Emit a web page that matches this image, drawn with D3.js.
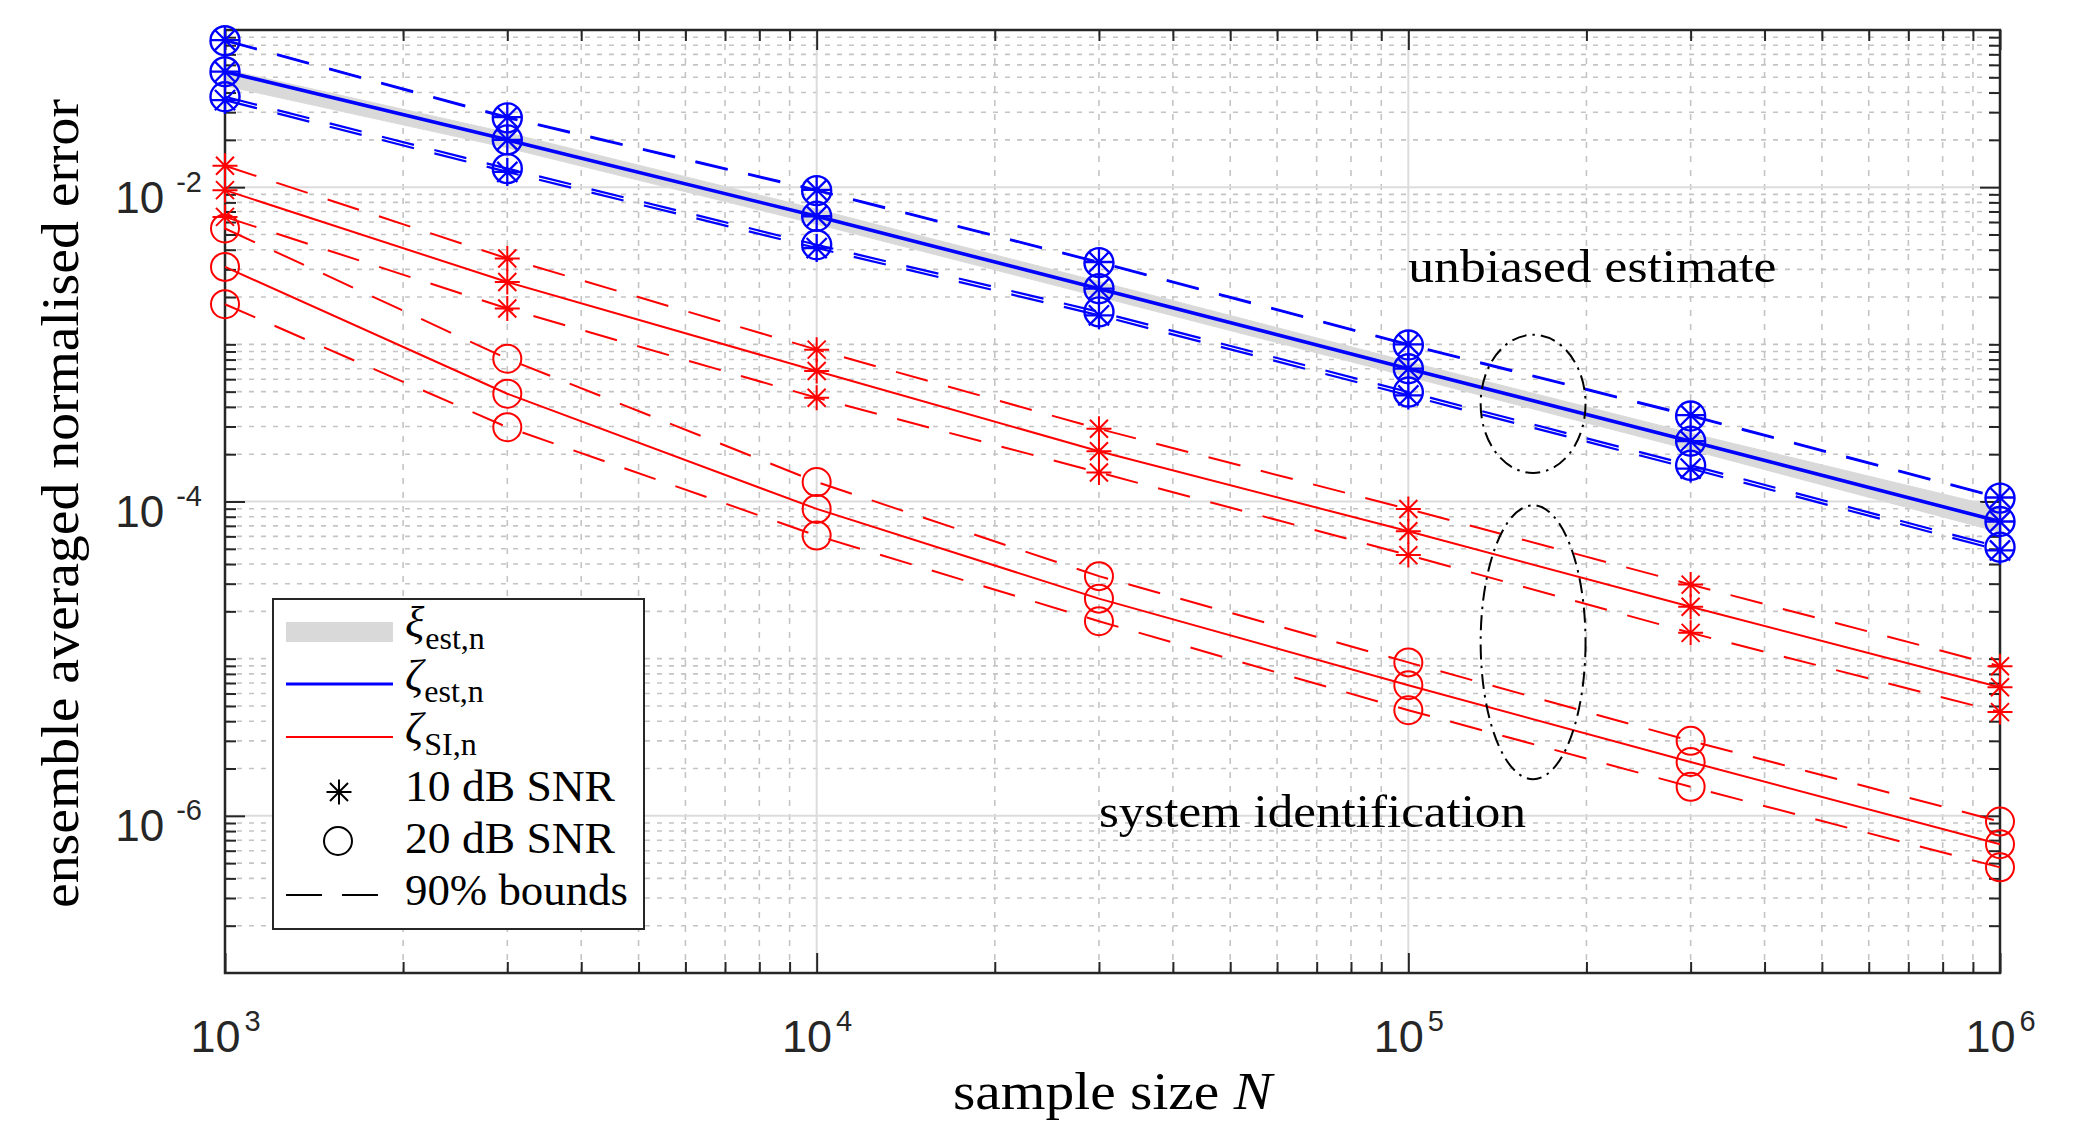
<!DOCTYPE html>
<html>
<head>
<meta charset="utf-8">
<script src="https://cdn.jsdelivr.net/npm/d3@7"></script>
<style>
  body { margin: 0; background: #fff; }
  svg { display: block; }
  text { font-family: "Liberation Serif", "Times New Roman", serif; fill: #000; }
  .tick-label { font-family: "Liberation Sans", Arial, sans-serif; fill: #262626; }
</style>
</head>
<body>
<div id="chart"></div>
<script>
// sample sizes N
const sampleN = [1e3, 3e3, 1e4, 3e4, 1e5, 3e5, 1e6];

// xi_est,n band (grey patch)
const xiUpper = [0.0562, 0.0222, 0.00724, 0.00251, 0.000776, 0.000272, 0.0000912];
const xiLower = [0.0442, 0.0178, 0.00582, 0.00201, 0.000624, 0.000213, 0.0000638];

// zeta_est,n (blue), 10 dB and 20 dB nearly coincide
const estMean = [0.0543, 0.0200, 0.00653, 0.00226, 0.00070, 0.000242, 0.0000746];
const est10Upper = [0.0863, 0.0279, 0.0096, 0.00334, 0.00100, 0.000354, 0.000106];
const est10Lower = [0.0358, 0.0125, 0.0041, 0.00153, 0.000473, 0.000162, 0.0000488];
const est20Upper = [0.0855, 0.0276, 0.0095, 0.00331, 0.00099, 0.000350, 0.000105];
const est20Lower = [0.0376, 0.01313, 0.0043, 0.00161, 0.000497, 0.000170, 0.0000512];

// zeta_SI,n (red)
const si10Mean = [0.00957, 0.00249, 0.000676, 0.000209, 0.0000646, 0.0000214, 0.00000658];
const si10Upper = [0.01368, 0.00352, 0.000925, 0.000290, 0.0000895, 0.0000296, 0.00000895];
const si10Lower = [0.00647, 0.00169, 0.000457, 0.000153, 0.0000456, 0.0000146, 0.00000457];
const si20Mean = [0.00311, 0.000485, 0.0000897, 0.0000241, 0.00000678, 0.0000022, 6.6e-7];
const si20Upper = [0.00546, 0.00081, 0.000133, 0.0000335, 0.00000947, 0.0000030, 9.2e-7];
const si20Lower = [0.00180, 0.000297, 0.0000607, 0.0000173, 0.0000047, 0.00000153, 4.7e-7];

// ticks
const xMajor = [1e3, 1e4, 1e5, 1e6];
const xExponents = ["3", "4", "5", "6"];
const yMajor = [1e-6, 1e-4, 1e-2];
const yExponents = ["-6", "-4", "-2"];

// dash-dot ellipses: [N left, N right], [value top, value bottom]
const ellipseN = [[1.325e5, 1.993e5], [1.325e5, 1.993e5]];
const ellipseV = [[1.15e-3, 1.52e-4], [9.46e-5, 1.71e-6]];

// annotations
const noteText = ["unbiased estimate", "system identification"];
const noteN = [1e5, 3e4];
const noteV = [2.5e-3, 8.5e-7];
const noteWidth = [368, 427];

const W = 2079, H = 1125;
const margin = { left: 225, right: 79, top: 30, bottom: 152 };
const BLUE = "#0000ff", RED = "#ff0000", AXC = "#262626";

const svg = d3.select("#chart").append("svg").attr("width", W).attr("height", H);

const x = d3.scaleLog().domain([1e3, 1e6]).range([margin.left, W - margin.right]);
const y = d3.scaleLog().domain([1e-7, 1e-1]).range([H - margin.bottom, margin.top]);
const [x0, x1] = x.range();
const [y0, y1] = y.range(); // y0 bottom, y1 top

// minor positions
const xMinor = [];
[1e3, 1e4, 1e5].forEach(d => { for (let k = 2; k <= 9; k++) xMinor.push(k * d); });
const yMinor = [];
for (let e = -7; e <= -2; e++) {
  for (let k = 1; k <= 9; k++) {
    const v = k * Math.pow(10, e);
    if (k === 1 && (yMajor.some(m => Math.abs(m - v) / m < 1e-6) || e === -7)) continue;
    yMinor.push(v);
  }
}

// grid
const grid = svg.append("g");
grid.selectAll(".vminor").data(xMinor).join("line")
  .attr("x1", d => x(d)).attr("x2", d => x(d)).attr("y1", y1).attr("y2", y0)
  .attr("stroke", "#c4c4c4").attr("stroke-width", 1.6).attr("stroke-dasharray", "6,8");
grid.selectAll(".hminor").data(yMinor).join("line")
  .attr("x1", x0).attr("x2", x1).attr("y1", d => y(d)).attr("y2", d => y(d))
  .attr("stroke", "#c4c4c4").attr("stroke-width", 1.6).attr("stroke-dasharray", "5,7");
grid.selectAll(".vmajor").data(xMajor.slice(1, -1)).join("line")
  .attr("x1", d => x(d)).attr("x2", d => x(d)).attr("y1", y1).attr("y2", y0)
  .attr("stroke", "#dcdcdc").attr("stroke-width", 2);
grid.selectAll(".hmajor").data(yMajor).join("line")
  .attr("x1", x0).attr("x2", x1).attr("y1", d => y(d)).attr("y2", d => y(d))
  .attr("stroke", "#dcdcdc").attr("stroke-width", 2);

// axes (ticks point inward)
function styleAxis(g) {
  g.select(".domain").remove();
  g.selectAll(".tick line").attr("stroke", AXC).attr("stroke-width", 2);
  g.selectAll(".tick text").remove();
}
const axB = svg.append("g").attr("transform", `translate(0,${y0})`)
  .call(d3.axisBottom(x).tickValues(xMajor).tickSize(-20)).call(styleAxis);
svg.append("g").attr("transform", `translate(0,${y0})`)
  .call(d3.axisBottom(x).tickValues(xMinor).tickSize(-11)).call(styleAxis);
svg.append("g").attr("transform", `translate(0,${y1})`)
  .call(d3.axisTop(x).tickValues(xMajor).tickSize(-20)).call(styleAxis);
svg.append("g").attr("transform", `translate(0,${y1})`)
  .call(d3.axisTop(x).tickValues(xMinor).tickSize(-11)).call(styleAxis);
const axL = svg.append("g").attr("transform", `translate(${x0},0)`)
  .call(d3.axisLeft(y).tickValues(yMajor).tickSize(-20)).call(styleAxis);
svg.append("g").attr("transform", `translate(${x0},0)`)
  .call(d3.axisLeft(y).tickValues(yMinor).tickSize(-11)).call(styleAxis);
svg.append("g").attr("transform", `translate(${x1},0)`)
  .call(d3.axisRight(y).tickValues(yMajor).tickSize(-20)).call(styleAxis);
svg.append("g").attr("transform", `translate(${x1},0)`)
  .call(d3.axisRight(y).tickValues(yMinor).tickSize(-11)).call(styleAxis);

svg.append("rect").attr("x", x0).attr("y", y1).attr("width", x1 - x0).attr("height", y0 - y1)
  .attr("fill", "none").attr("stroke", AXC).attr("stroke-width", 2.5);

// tick labels 10^k
axB.selectAll(".tick").each(function (d, i) {
  const t = d3.select(this).append("text").attr("class", "tick-label")
    .attr("y", 79).attr("text-anchor", "middle").style("font-size", "45px");
  t.append("tspan").text("10");
  t.append("tspan").attr("dx", 4).attr("dy", -21).style("font-size", "29px").text(xExponents[i]);
});
axL.selectAll(".tick").each(function (d, i) {
  const t = d3.select(this).append("text").attr("class", "tick-label")
    .attr("x", -23).attr("y", 25).attr("text-anchor", "end").style("font-size", "44px");
  t.append("tspan").text("10");
  t.append("tspan").attr("dx", 12).attr("dy", -21).style("font-size", "29px").text(yExponents[i]);
});

// axis titles
svg.append("text").attr("transform", `translate(78,${(y0 + y1) / 2 + 2}) rotate(-90)`)
  .attr("text-anchor", "middle").style("font-size", "53px")
  .attr("textLength", 809).attr("lengthAdjust", "spacingAndGlyphs")
  .text("ensemble averaged normalised error");
const xl = svg.append("text").attr("x", 953).attr("y", 1109).style("font-size", "52px")
  .attr("textLength", 319).attr("lengthAdjust", "spacingAndGlyphs");
xl.append("tspan").text("sample size ");
xl.append("tspan").style("font-style", "italic").text("N");

// data
const pts = arr => d3.zip(sampleN, arr);
const line = d3.line().x(d => x(d[0])).y(d => y(d[1]));
const area = d3.area().x(d => x(d[0])).y0(d => y(d[1])).y1(d => y(d[2]));

const plot = svg.append("g");
plot.append("path").datum(d3.zip(sampleN, xiLower, xiUpper)).attr("d", area)
  .attr("fill", "#d9d9d9").attr("stroke", "#d9d9d9").attr("stroke-width", 1);

const dash = "33,21";
function drawLine(arr, color, width, dashed) {
  plot.append("path").datum(pts(arr)).attr("d", line)
    .attr("fill", "none").attr("stroke", color).attr("stroke-width", width)
    .attr("stroke-dasharray", dashed ? dash : null);
}
[si10Upper, si10Lower, si20Upper, si20Lower].forEach(a => drawLine(a, RED, 2, true));
[si10Mean, si20Mean].forEach(a => drawLine(a, RED, 2, false));
[est10Upper, est10Lower, est20Upper, est20Lower].forEach(a => drawLine(a, BLUE, 2.2, true));
drawLine(estMean, BLUE, 3.6, false);

function asterisk(r) {
  const q = r * 0.72;
  return `M${-r},0H${r}M0,${-r}V${r}M${-q},${-q}L${q},${q}M${-q},${q}L${q},${-q}`;
}
function drawStars(arrs, color, r, w) {
  arrs.forEach(a => {
    plot.append("g").selectAll("path").data(pts(a)).join("path")
      .attr("transform", d => `translate(${x(d[0])},${y(d[1])})`)
      .attr("d", asterisk(r)).attr("fill", "none").attr("stroke", color).attr("stroke-width", w);
  });
}
function drawCircles(arrs, color, r, w) {
  arrs.forEach(a => {
    plot.append("g").selectAll("circle").data(pts(a)).join("circle")
      .attr("cx", d => x(d[0])).attr("cy", d => y(d[1])).attr("r", r)
      .attr("fill", "none").attr("stroke", color).attr("stroke-width", w);
  });
}
drawStars([si10Upper, si10Mean, si10Lower], RED, 12.5, 2);
drawCircles([si20Upper, si20Mean, si20Lower], RED, 14, 2);
drawStars([est10Upper, estMean, est10Lower], BLUE, 14, 2.3);
drawCircles([est20Upper, estMean, est20Lower], BLUE, 14.5, 2.4);

// ellipses
ellipseN.forEach((n, i) => {
  const v = ellipseV[i];
  plot.append("ellipse")
    .attr("cx", (x(n[0]) + x(n[1])) / 2).attr("cy", (y(v[0]) + y(v[1])) / 2)
    .attr("rx", (x(n[1]) - x(n[0])) / 2).attr("ry", (y(v[1]) - y(v[0])) / 2)
    .attr("fill", "none").attr("stroke", "#000").attr("stroke-width", 2)
    .attr("stroke-dasharray", "15,6,2.5,6");
});

// annotations
noteText.forEach((t, i) => {
  svg.append("text").attr("x", x(noteN[i])).attr("y", y(noteV[i]))
    .style("font-size", "47px")
    .attr("textLength", noteWidth[i]).attr("lengthAdjust", "spacingAndGlyphs").text(t);
});

// legend
const lg = svg.append("g").attr("transform", "translate(273,599)");
lg.append("rect").attr("width", 371).attr("height", 330)
  .attr("fill", "#fff").attr("stroke", AXC).attr("stroke-width", 2);
lg.append("rect").attr("x", 13).attr("y", 23).attr("width", 107).attr("height", 20).attr("fill", "#d9d9d9");
lg.append("line").attr("x1", 13).attr("x2", 120).attr("y1", 85).attr("y2", 85)
  .attr("stroke", BLUE).attr("stroke-width", 3);
lg.append("line").attr("x1", 13).attr("x2", 120).attr("y1", 138).attr("y2", 138)
  .attr("stroke", RED).attr("stroke-width", 2.2);
lg.append("path").attr("transform", "translate(66,193)").attr("d", asterisk(12.5))
  .attr("fill", "none").attr("stroke", "#000").attr("stroke-width", 2);
lg.append("circle").attr("cx", 65).attr("cy", 242).attr("r", 14)
  .attr("fill", "none").attr("stroke", "#000").attr("stroke-width", 2);
lg.append("line").attr("x1", 13).attr("x2", 106).attr("y1", 296).attr("y2", 296)
  .attr("stroke", "#000").attr("stroke-width", 2).attr("stroke-dasharray", "36,20");

const greek = [["ξ", "est,n", 38], ["ζ", "est,n", 91], ["ζ", "SI,n", 144]];
greek.forEach(([g, sub, yy]) => {
  const t = lg.append("text").attr("x", 132).attr("y", yy).style("font-size", "45px");
  t.append("tspan").style("font-style", "italic").text(g);
  t.append("tspan").attr("dx", 1).attr("dy", 12).style("font-size", "32px").text(sub);
});
[["10 dB SNR", 202, 210], ["20 dB SNR", 254, 210], ["90% bounds", 306, 223]].forEach(([s, yy, w]) => {
  lg.append("text").attr("x", 132).attr("y", yy).style("font-size", "44px")
    .attr("textLength", w).attr("lengthAdjust", "spacingAndGlyphs").text(s);
});
</script>
</body>
</html>
